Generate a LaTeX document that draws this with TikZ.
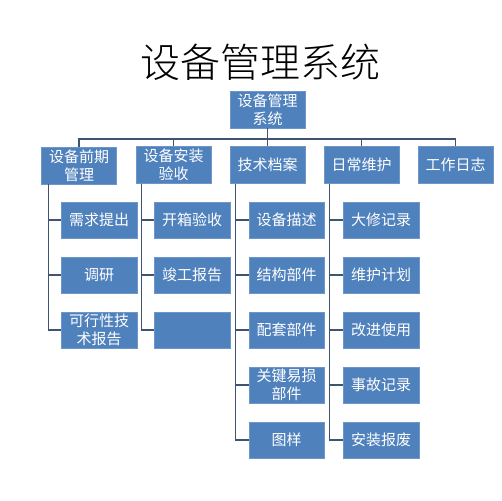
\documentclass[tikz,border=0pt]{standalone}
\usepackage{fontspec}
\setmainfont{Noto Sans CJK SC}
\newfontfamily\cjk{Noto Sans CJK SC}
\newfontfamily\titlefont{Noto Sans CJK SC Light}
\definecolor{boxblue}{RGB}{79,129,189}
\definecolor{boxedge}{RGB}{110,150,200}
\definecolor{linecol}{RGB}{62,84,112}
\begin{document}
\begin{tikzpicture}[x=1pt,y=-1pt,
  bx/.style={draw=boxedge,line width=0.6pt,fill=boxblue,text=white,
    minimum width=75pt,minimum height=37pt,inner sep=1pt,align=center,
    font=\cjk\fontsize{15}{18}\selectfont},
  conn/.style={draw=linecol,line width=1.4pt}]
\useasboundingbox (0,0) rectangle (502,500);
\fill[white] (0,0) rectangle (502,500);
\node[font=\titlefont\fontsize{40}{44}\selectfont,text=black] (title) at (260,62) {设备管理系统};
% root
\node[bx] (root) at (267.5,109.5) {设备管理\\系统};
% level 1
\node[bx] (a) at (79,165.5) {设备前期\\管理};
\node[bx] (b) at (173.5,165) {设备安装\\验收};
\node[bx] (c) at (267.5,165) {技术档案};
\node[bx] (d) at (361.5,165) {日常维护};
\node[bx] (e) at (455.5,165) {工作日志};
% bus
\coordinate (bus) at (267.5,139);
\draw[conn] (root.south) -- (bus);
\draw[conn] (a.north) |- (bus);
\draw[conn] (b.north) |- (bus);
\draw[conn] (c.north) -- (bus);
\draw[conn] (d.north) |- (bus);
\draw[conn] (e.north) |- (bus);
% column a
\node[bx,minimum width=76pt,minimum height=36pt] (a1) at (99,220) {需求提出};
\node[bx,minimum width=76pt,minimum height=36pt] (a2) at (99,275) {调研};
\node[bx,minimum width=76pt,minimum height=36pt] (a3) at (99,330) {可行性技\\术报告};
\coordinate (aa) at ([xshift=7pt]a.south west);
\draw[conn] (aa) |- (a3.west);
\draw[conn] (a1.west) -- (a1.west -| aa);
\draw[conn] (a2.west) -- (a2.west -| aa);
% column b
\node[bx,minimum width=76pt,minimum height=36pt] (b1) at (192,220) {开箱验收};
\node[bx,minimum width=76pt,minimum height=36pt] (b2) at (192,275) {竣工报告};
\node[bx,minimum width=76pt,minimum height=36pt] (b3) at (192,330) {};
\coordinate (bb) at ([xshift=6pt]b.south west);
\draw[conn] (bb) |- (b3.west);
\draw[conn] (b1.west) -- (b1.west -| bb);
\draw[conn] (b2.west) -- (b2.west -| bb);
% column c
\node[bx,minimum width=75pt,minimum height=36pt] (c1) at (286.5,220) {设备描述};
\node[bx,minimum width=75pt,minimum height=36pt] (c2) at (286.5,275) {结构部件};
\node[bx,minimum width=75pt,minimum height=36pt] (c3) at (286.5,330) {配套部件};
\node[bx,minimum width=75pt,minimum height=36pt] (c4) at (286.5,385) {关键易损\\部件};
\node[bx,minimum width=75pt,minimum height=36pt] (c5) at (286.5,440) {图样};
\coordinate (cc) at ([xshift=6pt]c.south west);
\draw[conn] (cc) |- (c5.west);
\foreach \n in {c1,c2,c3,c4} \draw[conn] (\n.west) -- (\n.west -| cc);
% column d
\node[bx,minimum width=76pt,minimum height=36pt] (d1) at (381,220) {大修记录};
\node[bx,minimum width=76pt,minimum height=36pt] (d2) at (381,275) {维护计划};
\node[bx,minimum width=76pt,minimum height=36pt] (d3) at (381,330) {改进使用};
\node[bx,minimum width=76pt,minimum height=36pt] (d4) at (381,385) {事故记录};
\node[bx,minimum width=76pt,minimum height=36pt] (d5) at (381,440) {安装报废};
\coordinate (dd) at ([xshift=6pt]d.south west);
\draw[conn] (dd) |- (d5.west);
\foreach \n in {d1,d2,d3,d4} \draw[conn] (\n.west) -- (\n.west -| dd);
\end{tikzpicture}
\end{document}
